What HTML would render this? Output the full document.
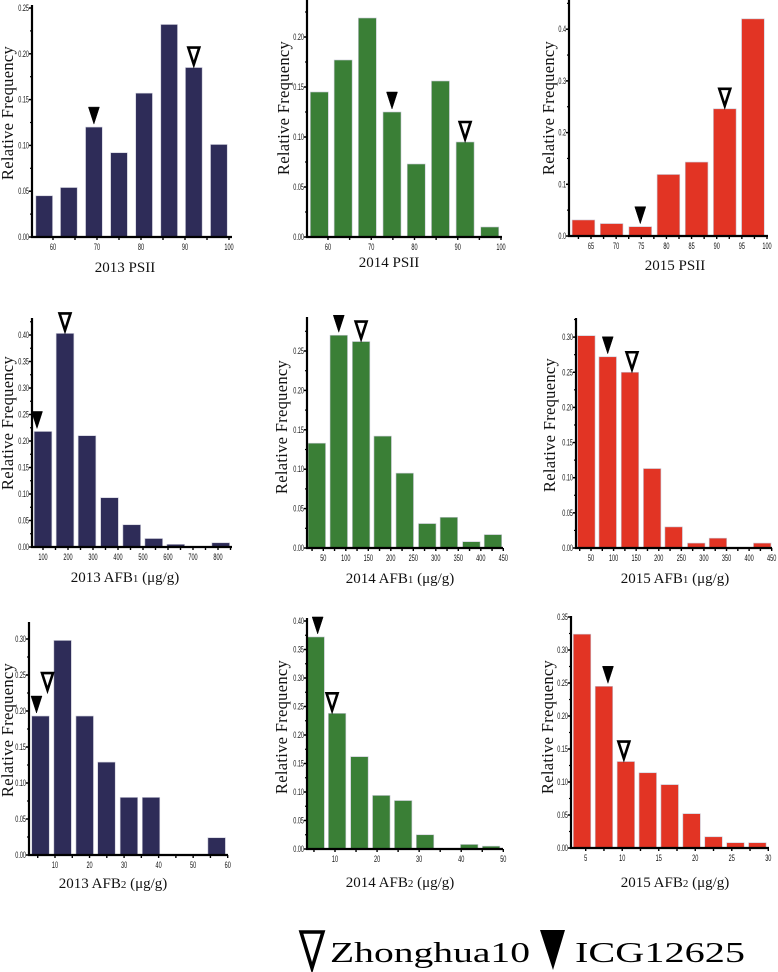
<!DOCTYPE html>
<html><head><meta charset="utf-8"><style>
html,body{margin:0;padding:0;background:#fff;}
svg{display:block;}
.tk{font-family:"Liberation Sans Narrow","Liberation Sans",sans-serif;font-size:9px;fill:#111;}
.lab{font-family:"Liberation Serif",serif;font-size:15px;fill:#111;}
.ylab{font-family:"Liberation Serif",serif;font-size:16.5px;fill:#111;letter-spacing:0.3px;}
</style></head><body>
<svg id="fig" width="778" height="972" viewBox="0 0 778 972" xmlns="http://www.w3.org/2000/svg">
<g id="legend">
 <polygon points="301,932 323,932 312,968" fill="#fff" stroke="#000" stroke-width="3.5"/>
 <text x="330" y="962" font-family="Liberation Serif, serif" font-size="29" textLength="200" lengthAdjust="spacingAndGlyphs">Zhonghua10</text>
 <polygon points="540,930 565,930 553,970" fill="#000"/>
 <text x="575" y="962" font-family="Liberation Serif, serif" font-size="29" textLength="170" lengthAdjust="spacingAndGlyphs">ICG12625</text>
</g>
</svg>
<script>
// ---- data arrays ----
const p1Bins=[58,63.6,69.3,75,80.7,86.4,92,97.7];
const p1Values=[0.045,0.054,0.12,0.092,0.157,0.232,0.185,0.101];
const p1XTicks=[60,70,80,90,100];
const p1YTicks=[0,0.05,0.10,0.15,0.20,0.25];

const p2Bins=[58,63.5,69.1,74.8,80.4,86.0,91.7,97.4];
const p2Values=[0.145,0.177,0.219,0.125,0.073,0.156,0.095,0.01];
const p2XTicks=[60,70,80,90,100];
const p2YTicks=[0,0.05,0.10,0.15,0.20];

const p3Bins=[63.5,69.1,74.8,80.4,86.0,91.6,97.2];
const p3Values=[0.031,0.024,0.018,0.119,0.143,0.246,0.42];
const p3XTicks=[65,70,75,80,85,90,95,100];
const p3YTicks=[0,0.1,0.2,0.3,0.4];

const p4Bins=[100,188,276,366,455,543,631,811];
const p4Values=[0.218,0.403,0.21,0.093,0.042,0.016,0.005,0.008];
const p4XTicks=[100,200,300,400,500,600,700,800];
const p4YTicks=[0,0.05,0.10,0.15,0.20,0.25,0.30,0.35,0.40];

const p5Bins=[35.6,84.4,134,182,231,281,329,379,427];
const p5Values=[0.133,0.27,0.262,0.142,0.095,0.031,0.039,0.008,0.017];
const p5XTicks=[50,100,150,200,250,300,350,400,450];
const p5YTicks=[0,0.05,0.10,0.15,0.20,0.25];

const p6Bins=[39.6,87,136.3,185.4,233,283,331,429];
const p6Values=[0.302,0.272,0.25,0.113,0.03,0.007,0.014,0.007];
const p6XTicks=[50,100,150,200,250,300,350,400,450];
const p6YTicks=[0,0.05,0.10,0.15,0.20,0.25,0.30];

const p7Bins=[5.8,12.2,18.6,24.9,31.4,37.8,56.8];
const p7Values=[0.193,0.298,0.193,0.129,0.08,0.08,0.024];
const p7XTicks=[10,20,30,40,50,60];
const p7YTicks=[0,0.05,0.10,0.15,0.20,0.25,0.30];

const p8Bins=[5.4,10.5,15.8,21,26.2,31.4,41.9,47.1];
const p8Values=[0.372,0.238,0.162,0.094,0.085,0.025,0.008,0.005];
const p8XTicks=[10,20,30,40,50];
const p8YTicks=[0,0.05,0.10,0.15,0.20,0.25,0.30,0.35,0.40];

const p9Bins=[4.5,7.5,10.5,13.5,16.5,19.5,22.5,25.5,28.5];
const p9Values=[0.324,0.245,0.131,0.114,0.096,0.052,0.017,0.008,0.008];
const p9XTicks=[5,10,15,20,25,30];
const p9YTicks=[0,0.05,0.10,0.15,0.20,0.25,0.30,0.35];

// marker arrays: bar index for ICG12625 (filled) and Zhonghua10 (open)
const filledMarkers=[2,3,2,0,1,1,0,0,1];
const openMarkers=[6,6,5,1,2,2,0,1,2];

// ---- layout (pixel geometry, not data) ----
const NAVY="#2e2c58",GREEN="#3a7f36",RED="#e23424";
const panels=[
 {name:"2013-psii",bins:p1Bins,vals:p1Values,xt:p1XTicks,yt:p1YTicks,col:NAVY,ax:32,ay:237,top:5,right:232,k:916,xv:[60,53,100,229],bw:16.7,minor:5,dec:2,title:["2013 PSII"],lx:125,ly:272,ylx:8,yly:113,mo:[0,0,0]},
 {name:"2014-psii",bins:p2Bins,vals:p2Values,xt:p2XTicks,yt:p2YTicks,col:GREEN,ax:307,ay:237,top:0,right:502,k:1000,xv:[60,328,100,501],bw:18,minor:5,dec:2,title:["2014 PSII"],lx:389,ly:267,ylx:284,yly:108,mo:[0,0,0]},
 {name:"2015-psii",bins:p3Bins,vals:p3Values,xt:p3XTicks,yt:p3YTicks,col:RED,ax:569,ay:236,top:0,right:768,k:517,xv:[65,591,100,767],bw:22.7,minor:2.5,dec:1,title:["2015 PSII"],lx:675,ly:270,ylx:549,yly:108,mo:[0,0,0]},
 {name:"2013-afb1",bins:p4Bins,vals:p4Values,xt:p4XTicks,yt:p4YTicks,col:NAVY,ax:32,ay:547,top:318,right:232,k:530,xv:[100,43,800,218],bw:17.7,minor:50,dec:2,title:["2013 AFB","1"," (μg/g)"],lx:125,ly:582,ylx:8,yly:423,mo:[-6,0,0]},
 {name:"2014-afb1",bins:p5Bins,vals:p5Values,xt:p5XTicks,yt:p5YTicks,col:GREEN,ax:307,ay:548,top:317,right:503,k:788,xv:[50,323.3,450,503.3],bw:17.5,minor:25,dec:2,title:["2014 AFB","1"," (μg/g)"],lx:400,ly:583,ylx:282,yly:427,mo:[0,0,0]},
 {name:"2015-afb1",bins:p6Bins,vals:p6Values,xt:p6XTicks,yt:p6YTicks,col:RED,ax:576,ay:548,top:318,right:772,k:703,xv:[50,591,450,771.7],bw:17.5,minor:25,dec:2,title:["2015 AFB","1"," (μg/g)"],lx:675,ly:583,ylx:550,yly:425,mo:[0,2,0]},
 {name:"2013-afb2",bins:p7Bins,vals:p7Values,xt:p7XTicks,yt:p7YTicks,col:NAVY,ax:29,ay:855,top:622,right:228,k:720,xv:[10,55,60,227.7],bw:17.5,minor:5,dec:2,title:["2013 AFB","2"," (μg/g)"],lx:113,ly:888,ylx:8,yly:730,mo:[-4,7,-23]},
 {name:"2014-afb2",bins:p8Bins,vals:p8Values,xt:p8XTicks,yt:p8YTicks,col:GREEN,ax:307,ay:849,top:618,right:503,k:570,xv:[10,335,50,503.3],bw:17.5,minor:5,dec:2,title:["2014 AFB","2"," (μg/g)"],lx:400,ly:887,ylx:282,yly:727,mo:[2,-5,0]},
 {name:"2015-afb2",bins:p9Bins,vals:p9Values,xt:p9XTicks,yt:p9YTicks,col:RED,ax:571,ay:848,top:616,right:769,k:660,xv:[5,585.7,30,768.3],bw:17.5,minor:2.5,dec:2,title:["2015 AFB","2"," (μg/g)"],lx:675,ly:887,ylx:548,yly:727,mo:[4,-2,0]}
];

const svg=document.getElementById('fig');
const NS="http://www.w3.org/2000/svg";
function mk(tag,attrs,parent){const e=document.createElementNS(NS,tag);for(const a in attrs)e.setAttribute(a,attrs[a]);parent.appendChild(e);return e;}
function tickW(s){let w=0;for(const c of s)w+=(c==='.')?1.4:3.1;return w;}

panels.forEach((p,pi)=>{
 const g=mk('g',{},svg);
 
 
 const ppu=(p.xv[3]-p.xv[1])/(p.xv[2]-p.xv[0]);
 const sx=(v)=>p.xv[1]+(v-p.xv[0])*ppu;
 const sy=(v)=>p.ay-v*p.k;
 p.bins.forEach((b,i)=>{
  const x=sx(b),y=sy(p.vals[i]);
  const r=mk('rect',{x:x-p.bw/2,y:y,width:p.bw,height:p.ay-y,fill:p.col,stroke:"#c9c9d6","stroke-width":0.6},g);
  
  
 });
 const mkTri=(idx,open,off,dy)=>{
  const cx=sx(p.bins[idx])+off, ty=sy(p.vals[idx])-20+dy;
  const t=mk('polygon',{points:`${cx-5.5},${ty} ${cx+5.5},${ty} ${cx},${ty+17}`,fill:open?"#fff":"#000",stroke:"#000","stroke-width":open?2.6:0.5},g);
  
  
 };
 mkTri(filledMarkers[pi],false,p.mo[0],0);
 mkTri(openMarkers[pi],true,p.mo[1],p.mo[2]);
 const ya=mk('line',{x1:p.ax,y1:p.top,x2:p.ax,y2:p.ay+1,stroke:"#000","stroke-width":2.2},g);
 
 
 const xa=mk('line',{x1:p.ax-1,y1:p.ay,x2:p.right,y2:p.ay,stroke:"#000","stroke-width":2.2},g);
 
 
 const ystep=p.yt[1]-p.yt[0];
 p.yt.forEach((v)=>{
  const y=sy(v);
  mk('line',{x1:p.ax-3,y1:y,x2:p.ax,y2:y,stroke:"#000","stroke-width":1.5},g);
  const my=sy(v+ystep/2);
  if(my>=p.top) mk('line',{x1:p.ax-2,y1:my,x2:p.ax,y2:my,stroke:"#000","stroke-width":1.2},g);
  const s=v.toFixed(p.dec);
  const t=mk('text',{x:p.ax-3,y:y+3,"text-anchor":"end",class:"tk",textLength:tickW(s),lengthAdjust:"spacingAndGlyphs"},g);
  t.textContent=s;
  
  
 });
 const vStart=p.xv[0]+(p.ax-p.xv[1])/ppu;
 for(let v=p.xt[0]-Math.floor((p.xt[0]-vStart)/p.minor)*p.minor; sx(v)<=p.right+0.5; v+=p.minor){
  const x=sx(v); if(x<p.ax) continue;
  mk('line',{x1:x,y1:p.ay,x2:x,y2:p.ay+3,stroke:"#000","stroke-width":1.4},g);
 }
 p.xt.forEach((v)=>{
  const s=String(v);
  const t=mk('text',{x:sx(v),y:p.ay+13,"text-anchor":"middle",class:"tk",textLength:tickW(s),lengthAdjust:"spacingAndGlyphs"},g);
  t.textContent=s;
  
  
 });
 const xl=mk('text',{x:p.lx,y:p.ly,"text-anchor":"middle",class:"lab"},g);
 
 
 const s1=mk('tspan',{},xl); s1.textContent=p.title[0];
 if(p.title.length>1){const s2=mk('tspan',{"font-size":"11"},xl); s2.textContent=p.title[1]; const s3=mk('tspan',{},xl); s3.textContent=p.title[2];}
 const yl=mk('text',{x:0,y:0,"text-anchor":"middle",class:"ylab",transform:`translate(${p.ylx+5},${p.yly}) rotate(-90)`},g);
 yl.textContent="Relative Frequency";
 
 
});
</script>
</body></html>
